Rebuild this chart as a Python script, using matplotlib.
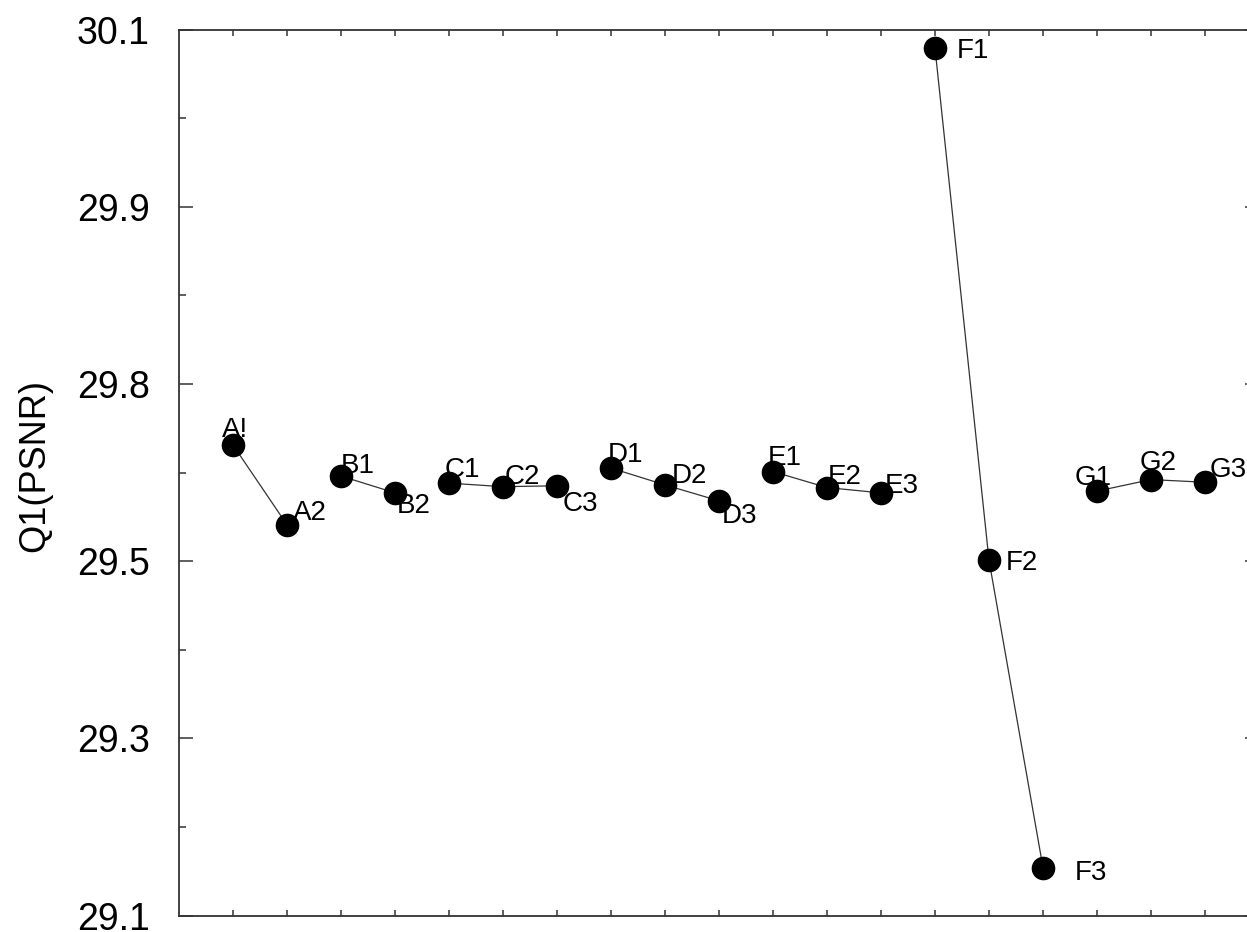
import matplotlib
matplotlib.use("Agg")
import matplotlib.pyplot as plt
from matplotlib.ticker import FixedLocator, FixedFormatter

# ---- data ----
point_labels = ["A!", "A2", "B1", "B2", "C1", "C2", "C3", "D1", "D2", "D3",
                "E1", "E2", "E3", "F1", "F2", "F3", "G1", "G2", "G3"]
psnr_values = [29.631, 29.541, 29.596, 29.577, 29.588, 29.584, 29.585,
               29.605, 29.586, 29.568, 29.601, 29.583, 29.577,
               30.079, 29.501, 29.154, 29.579, 29.592, 29.589]
groups = ["A", "A", "B", "B", "C", "C", "C", "D", "D", "D",
          "E", "E", "E", "F", "F", "F", "G", "G", "G"]
ytick_values = [29.1, 29.3, 29.5, 29.7, 29.9, 30.1]
ytick_labels = ["29.1", "29.3", "29.5", "29.8", "29.9", "30.1"]
y_label = "Q1(PSNR)"

# label offsets (pixels) - style only
label_offsets = [(-11, 8), (6, 5), (0, 3), (2, -20), (-4, 6), (2, 3), (6, -25),
                 (-3, 6), (7, 2), (3, -22), (-5, 7), (1, 4), (4, 0),
                 (22, -10), (17, -10), (32, -12), (-22, 6), (-11, 10), (5, 5)]

plt.rcParams['font.family'] = ['Liberation Sans', 'DejaVu Sans']

fig = plt.figure(figsize=(12.47, 9.32), dpi=100)
W, H = 1247, 932
left_px, right_px, top_px, bottom_px = 179, 1259, 29.5, 915.5
ax = fig.add_axes([left_px / W, (H - bottom_px) / H,
                   (right_px - left_px) / W, (bottom_px - top_px) / H])

xs = list(range(1, len(point_labels) + 1))

# connecting lines within groups
seen = []
for g in groups:
    if g not in seen:
        seen.append(g)
for g in seen:
    gx = [x for x, gg in zip(xs, groups) if gg == g]
    gy = [y for y, gg in zip(psnr_values, groups) if gg == g]
    ax.plot(gx, gy, color="#333333", lw=0.9, zorder=2)

ax.plot(xs, psnr_values, linestyle="none", marker="o", markersize=16,
        color="black", zorder=3)

for x, y, lab, off in zip(xs, psnr_values, point_labels, label_offsets):
    ax.annotate(lab, (x, y), xytext=off, textcoords="offset pixels",
                ha="left", va="baseline", fontsize=20, color="black", zorder=4)

ax.set_xlim(0, 20)
ax.set_ylim(29.1, 30.1)

ax.yaxis.set_major_locator(FixedLocator(ytick_values))
ax.yaxis.set_major_formatter(FixedFormatter(ytick_labels))
ax.yaxis.set_minor_locator(FixedLocator([29.2, 29.4, 29.6, 29.8, 30.0]))
ax.xaxis.set_major_locator(FixedLocator(xs))
ax.xaxis.set_ticklabels([])

ax.tick_params(axis="y", which="major", direction="in", length=10, width=1.1,
               left=True, right=True, labelsize=27, pad=21, color="#333333")
ax.tick_params(axis="y", which="minor", direction="in", length=5, width=1.1,
               left=True, right=True, color="#333333")
ax.tick_params(axis="x", which="major", direction="in", length=4.5, width=1.1,
               top=True, bottom=True, labelbottom=False, color="#333333")

for s in ax.spines.values():
    s.set_linewidth(1.3)
    s.set_color("#333333")

ax.set_ylabel(y_label, fontsize=26)
ax.yaxis.set_label_coords(-0.1176, 0.508)

fig.savefig("out.png", dpi=100)
